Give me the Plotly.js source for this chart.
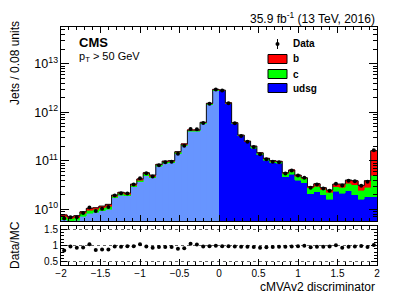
<!DOCTYPE html>
<html><head><meta charset="utf-8">
<script src="https://cdn.plot.ly/plotly-3.0.1.min.js"></script>
<style>html,body{margin:0;padding:0;background:#fff}#chart{width:407px;height:293px}</style>
</head><body><div id="chart"></div>
<script>
// ---- binning ----
const binLow = -2, binWidth = 0.08;
// ---- MC stack components (jets per bin) ----
const udsg = [6.13e9,5.65e9,5.92e9,7.16e9,8.4e9,8.64e9,9.36e9,1.016e10,1.72e10,1.96e10,
  1.89e10,2.90e10,3.68e10,4.96e10,4.44e10,7.74e10,9.01e10,9.19e10,1.41e11,2.03e11,
  4.07e11,4.07e11,5.87e11,1.448e12,2.81e12,2.76e12,1.509e12,5.84e11,3.26e11,2.45e11,
  1.84e11,1.34e11,1.03e11,9.19e10,8.92e10,4.76e10,5.36e10,4.03e10,3.50e10,2.12e10,
  2.31e10,1.98e10,1.61e10,2.39e10,2.14e10,2.43e10,1.98e10,1.61e10,1.82e10,1.82e10];
const charm = [0.92e9,0.85e9,0.89e9,1.07e9,1.26e9,1.30e9,1.40e9,1.52e9,1.58e9,1.80e9,
  1.74e9,2.66e9,3.38e9,4.56e9,4.08e9,5.1e9,5.94e9,6.06e9,9.3e9,1.34e10,
  1.73e10,1.73e10,2.50e10,6.2e10,1.2e11,8.7e10,4.7e10,1.84e10,1.02e10,7.7e9,
  1.41e10,1.03e10,7.9e9,7.1e9,6.9e9,0.73e10,0.82e10,0.84e10,0.83e10,0.70e10,
  0.72e10,0.59e10,0.67e10,0.54e10,0.71e10,1.01e10,1.20e10,0.89e10,1.03e10,3.29e10];
const bottom = [0.61e9,0.56e9,0.59e9,0.72e9,0.84e9,0.86e9,0.94e9,1.02e9,0.99e9,1.13e9,
  1.09e9,1.67e9,2.12e9,2.85e9,2.55e9,2.55e9,2.97e9,3.03e9,4.65e9,6.69e9,
  8.7e9,8.7e9,1.25e10,3.1e10,6.0e10,4.3e10,2.4e10,9.2e9,5.1e9,3.9e9,
  4.0e9,2.9e9,2.3e9,2.0e9,2.0e9,0.21e10,0.31e10,0.24e10,0.17e10,0.11e10,
  0.35e10,0.23e10,0.22e10,0.40e10,0.48e10,0.59e10,0.72e10,0.63e10,1.05e10,11.1e10];
// ---- data (jets per bin) ----
const data = [6.51e9,6.85e9,6.88e9,8.41e9,1.092e10,9.29e9,1.03e10,1.118e10,1.92e10,2.16e10,
  2.13e10,3.26e10,4.40e10,5.53e10,4.74e10,8.08e10,9.41e10,9.60e10,1.395e11,2.05e11,
  4.55e11,4.46e11,6.05e11,1.509e12,2.96e12,2.83e12,1.548e12,5.94e11,3.27e11,2.47e11,
  1.92e11,1.367e11,1.074e11,9.60e10,9.41e10,5.47e10,6.30e10,5.01e10,4.46e10,2.78e10,
  3.24e10,2.69e10,2.43e10,3.36e10,3.10e10,3.87e10,3.78e10,3.07e10,3.71e10,1.65e11];
// ---- tick labels ----
const xTickVals = [-2,-1.5,-1,-0.5,0,0.5,1,1.5,2];
const xTickText = ['\u22122','\u22121.5','\u22121','\u22120.5','0','0.5','1','1.5','2'];
const rTickVals = [0.5,1,1.5];
const rTickText = ['0.5','1','1.5'];
const legendNames = ['Data','b','c','udsg'];

// ---- derived ----
const n = udsg.length;
const centers = udsg.map((_, i) => binLow + binWidth * (i + 0.5));
const edges = Array.from({length: n + 1}, (_, i) => binLow + binWidth * i);
const mc = udsg.map((u, i) => u + charm[i] + bottom[i]);
const ratio = data.map((d, i) => d / mc[i]);
const lightBlue = '#6795ff', blue = '#0000ff', green = '#00ff00', red = '#ff0000';
const udsgColors = centers.map(c => c < 0 ? lightBlue : blue);

// pixel helpers for decorations (plot area: x 61..377, y 27..265)
const L = 61, R = 30, T = 27, B = 28, W = 407, H = 293;
const pw = W - L - R, ph = H - T - B;
const px = v => (v - L) / pw;
const py = v => (H - B - v) / ph;

const bar = (y, color, name) => ({
  type: 'bar', x: centers, y: y, width: binWidth, xaxis: 'x2', yaxis: 'y2', name: name,
  marker: {color: color, line: {color: color, width: 0.6}}, hoverinfo: 'skip'
});

const traces = [
  bar(udsg, udsgColors, 'udsg'),
  bar(charm, green, 'c'),
  bar(bottom, red, 'b'),
  {type: 'scatter', mode: 'lines', x: edges, y: mc.concat([mc[n - 1]]), xaxis: 'x2', yaxis: 'y2',
   line: {shape: 'hv', color: '#111', width: 1}, hoverinfo: 'skip'},
  {type: 'scatter', mode: 'markers', x: centers, y: data, xaxis: 'x2', yaxis: 'y2', name: 'Data',
   marker: {color: '#000', size: 4}},
  {type: 'scatter', mode: 'markers', x: centers, y: ratio, xaxis: 'x', yaxis: 'y',
   marker: {color: '#000', size: 4}}
];

const axisCommon = {
  ticks: 'inside', tickcolor: '#000', showline: true, linecolor: '#000', linewidth: 1,
  mirror: 'allticks', zeroline: false, showgrid: false
};
const split = (H - B - 221) / ph;

const layout = {
  width: W, height: H, margin: {l: L, r: R, t: T, b: B},
  paper_bgcolor: '#fff', plot_bgcolor: '#fff',
  font: {family: 'Liberation Sans, Arial, sans-serif', color: '#000', size: 10},
  barmode: 'stack', bargap: 0, showlegend: false,
  xaxis: Object.assign({}, axisCommon, {
    domain: [0, 1], anchor: 'y', range: [-2, 2], tickmode: 'array',
    tickvals: xTickVals, ticktext: xTickText, ticklen: 6,
    tickfont: {size: 10}, ticklabelstandoff: -1,
    minor: {tickmode: 'linear', tick0: -2, dtick: 0.1, ticks: 'inside', ticklen: 3, tickcolor: '#000'}
  }),
  xaxis2: Object.assign({}, axisCommon, {
    domain: [0, 1], anchor: 'y2', matches: 'x', range: [-2, 2], showticklabels: false,
    tickmode: 'array', tickvals: xTickVals, ticklen: 6,
    minor: {tickmode: 'linear', tick0: -2, dtick: 0.1, ticks: 'inside', ticklen: 3, tickcolor: '#000'}
  }),
  yaxis: Object.assign({}, axisCommon, {
    domain: [0, (H - B - 226) / ph], anchor: 'x', range: [0.4, 1.6],
    tickmode: 'array', tickvals: rTickVals, ticktext: rTickText, ticklen: 6,
    tickfont: {size: 10},
    showgrid: true, gridcolor: '#666', griddash: 'dot', gridwidth: 1,
    minor: {tickmode: 'linear', tick0: 0.4, dtick: 0.1, ticks: 'inside', ticklen: 3, tickcolor: '#000', showgrid: false}
  }),
  yaxis2: Object.assign({}, axisCommon, {
    domain: [split, 1], anchor: 'x2', type: 'log', range: [9.76, 13.76],
    dtick: 1, exponentformat: 'power', ticklen: 8, tickfont: {size: 10},
    minor: {dtick: 'D1', ticks: 'inside', ticklen: 4, tickcolor: '#000'}
  }),
  annotations: [
    {text: '35.9 fb<sup>-1</sup> (13 TeV, 2016)', xref: 'paper', yref: 'paper', x: 1, y: py(18),
     xanchor: 'right', yanchor: 'middle', showarrow: false, font: {size: 12}},
    {text: '<b>CMS</b>', xref: 'paper', yref: 'paper', x: px(77), y: py(42),
     xanchor: 'left', yanchor: 'middle', showarrow: false, font: {size: 13}},
    {text: 'p<sub>T</sub> > 50 GeV', xref: 'paper', yref: 'paper', x: px(77), y: py(57),
     xanchor: 'left', yanchor: 'middle', showarrow: false, font: {size: 11}},
    {text: 'Jets / 0.08 units', xref: 'paper', yref: 'paper', x: px(15), y: py(19),
     xanchor: 'center', yanchor: 'top', textangle: -90, showarrow: false, font: {size: 12}},
    {text: 'Data/MC', xref: 'paper', yref: 'paper', x: px(15), y: py(245),
     xanchor: 'center', yanchor: 'middle', textangle: -90, showarrow: false, font: {size: 12}},
    {text: 'cMVAv2 discriminator', xref: 'paper', yref: 'paper', x: 1, y: py(286.5),
     xanchor: 'right', yanchor: 'middle', showarrow: false, font: {size: 12}}
  ],
  shapes: []
};

// manual legend
const legY = [44, 59, 74, 88];
const legFill = [null, red, green, blue];
legendNames.forEach((name, k) => {
  layout.annotations.push({text: '<b>' + name + '</b>', xref: 'paper', yref: 'paper',
    x: px(291), y: py(legY[k]), xanchor: 'left', yanchor: 'middle', showarrow: false,
    font: {size: 10}});
  if (k === 0) {
    layout.shapes.push({type: 'line', xref: 'paper', yref: 'paper', x0: px(277.5), x1: px(277.5),
      y0: py(legY[k] - 5), y1: py(legY[k] + 5), line: {color: '#000', width: 1}});
    layout.shapes.push({type: 'circle', xref: 'paper', yref: 'paper',
      xsizemode: 'pixel', ysizemode: 'pixel', xanchor: px(277.5), yanchor: py(legY[k]),
      x0: -2, x1: 2, y0: -2, y1: 2, fillcolor: '#000', line: {color: '#000', width: 0}});
  } else {
    layout.shapes.push({type: 'rect', xref: 'paper', yref: 'paper',
      x0: px(268), x1: px(287), y0: py(legY[k] + 4.5), y1: py(legY[k] - 4.5),
      fillcolor: legFill[k], line: {color: '#000', width: 1}});
  }
});

Plotly.newPlot('chart', traces, layout, {staticPlot: true, displayModeBar: false});
</script></body></html>
